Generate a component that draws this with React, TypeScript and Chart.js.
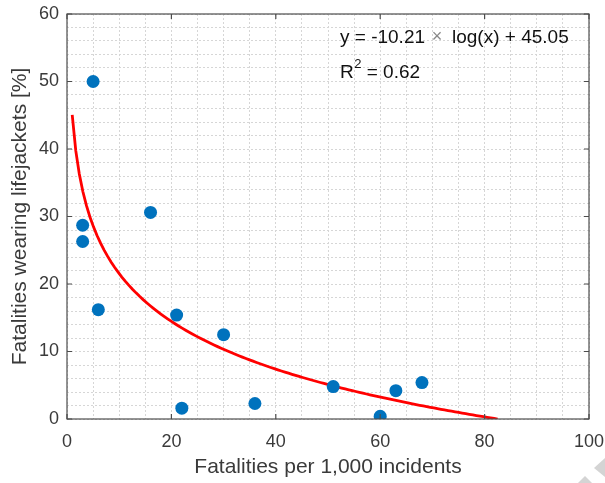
import React, { useEffect, useRef } from "react";
import { Chart, registerables } from "chart.js";

Chart.register(...registerables);

// Observed data points (fatalities per 1,000 incidents, % wearing lifejackets)
const xValues = [5, 3, 3, 6, 16, 21, 22, 30, 36, 51, 60, 63, 68];
const yValues = [50, 28.7, 26.3, 16.2, 30.6, 15.4, 1.6, 12.5, 2.3, 4.8, 0.4, 4.2, 5.4];

// Logarithmic fit shown in the annotation
const fitSlope = -10.21;
const fitIntercept = 45.05;
const fitXStart = 1;
const fitXEnd = 82.5;
const fitSamples = 120;

const eqLeft = "y = -10.21";
const eqTimes = "\u00d7";
const eqRight = "log(x) + 45.05";
const r2Value = " = 0.62";

const xTicks = [0, 20, 40, 60, 80, 100];
const yTicks = [0, 10, 20, 30, 40, 50, 60];
const xTitle = "Fatalities per 1,000 incidents";
const yTitle = "Fatalities wearing lifejackets [%]";

const FONT = "'Liberation Sans', Arial, Helvetica, sans-serif";
const AXIS_COLOR = "#4d4d4d";
const TEXT_COLOR = "#3a3a3a";

const boxPlugin = {
  id: "matlabBox",
  afterDatasetsDraw(chart: any) {
    const { ctx, chartArea, scales } = chart;
    const { left, right, top, bottom } = chartArea;
    ctx.save();
    ctx.strokeStyle = AXIS_COLOR;
    ctx.lineWidth = 1.2;
    ctx.strokeRect(left, top, right - left, bottom - top);
    const tl = 5;
    ctx.beginPath();
    xTicks.forEach((v) => {
      const px = scales.x.getPixelForValue(v);
      ctx.moveTo(px, bottom);
      ctx.lineTo(px, bottom - tl);
      ctx.moveTo(px, top);
      ctx.lineTo(px, top + tl);
    });
    yTicks.forEach((v) => {
      const py = scales.y.getPixelForValue(v);
      ctx.moveTo(left, py);
      ctx.lineTo(left + tl, py);
      ctx.moveTo(right, py);
      ctx.lineTo(right - tl, py);
    });
    ctx.stroke();

    // annotation text
    ctx.fillStyle = "#111111";
    ctx.textBaseline = "alphabetic";
    ctx.textAlign = "left";
    ctx.font = `19px ${FONT}`;
    const tx = 340;
    ctx.fillText(eqLeft, tx, 43);
    const lw = ctx.measureText(eqLeft).width;
    ctx.fillStyle = "#888888";
    ctx.font = `18px ${FONT}`;
    ctx.textAlign = "center";
    ctx.fillText(eqTimes, 437, 42);
    ctx.textAlign = "left";
    ctx.fillStyle = "#111111";
    ctx.font = `19px ${FONT}`;
    ctx.fillText(eqRight, Math.max(452, tx + lw + 24), 43);
    ctx.fillText("R", tx, 78);
    const rw = ctx.measureText("R").width;
    ctx.font = `13px ${FONT}`;
    ctx.fillText("2", tx + rw + 0.5, 68);
    const sw = ctx.measureText("2").width;
    ctx.font = `19px ${FONT}`;
    ctx.fillText(r2Value, tx + rw + sw + 0.5, 78);

    // faint page-corner marks in the bottom-right of the picture
    ctx.fillStyle = "#d4d4d4";
    ctx.beginPath();
    ctx.moveTo(594, 468);
    ctx.lineTo(605, 458);
    ctx.lineTo(605, 477);
    ctx.closePath();
    ctx.fill();
    ctx.beginPath();
    ctx.moveTo(578, 483);
    ctx.lineTo(585, 476);
    ctx.lineTo(592, 483);
    ctx.closePath();
    ctx.fill();
    ctx.restore();
  },
};

export default function App() {
  const ref = useRef<HTMLCanvasElement | null>(null);

  useEffect(() => {
    if (!ref.current) return;
    const points = xValues.map((x, i) => ({ x, y: yValues[i] }));
    const fit: { x: number; y: number }[] = [];
    for (let i = 0; i <= fitSamples; i++) {
      const x = fitXStart + ((fitXEnd - fitXStart) * i) / fitSamples;
      fit.push({ x, y: fitSlope * Math.log(x) + fitIntercept });
    }
    const gridCfg = {
      color: "#d6d6d6",
      lineWidth: 1,
      drawTicks: false,
      tickLength: 0,
    };
    const chart = new Chart(ref.current, {
      type: "scatter",
      data: {
        datasets: [
          {
            type: "line",
            data: fit,
            borderColor: "#ff0000",
            borderWidth: 2.8,
            pointRadius: 0,
            fill: false,
            order: 2,
          } as any,
          {
            data: points,
            backgroundColor: "#0072bd",
            borderColor: "#0072bd",
            pointRadius: 6.5,
            pointBorderWidth: 0,
            order: 1,
          },
        ],
      },
      options: {
        animation: false,
        responsive: false,
        layout: { padding: { left: 0, top: 14, right: 16, bottom: 0 } },
        plugins: { legend: { display: false }, tooltip: { enabled: false } },
        scales: {
          x: {
            type: "linear",
            min: 0,
            max: 100,
            afterFit: (s: any) => {
              s.height = 64;
              s.paddingLeft = 0;
              s.paddingRight = 0;
            },
            afterBuildTicks: (s: any) => {
              const t: any[] = [];
              for (let v = 0; v <= 100; v += 5) t.push({ value: v, major: v % 20 === 0 });
              s.ticks = t;
            },
            border: { display: false, dash: [2, 2] },
            grid: gridCfg as any,
            ticks: {
              autoSkip: false,
              maxRotation: 0,
              padding: 12,
              color: TEXT_COLOR,
              font: { family: FONT, size: 18 },
              callback: (v: any) => (Number(v) % 20 === 0 ? String(v) : ""),
            },
            title: {
              display: true,
              text: xTitle,
              color: TEXT_COLOR,
              font: { family: FONT, size: 21 },
              padding: { top: 0, bottom: 3 },
            },
          },
          y: {
            type: "linear",
            min: 0,
            max: 60,
            afterFit: (s: any) => {
              s.width = 67;
              s.paddingTop = 0;
              s.paddingBottom = 0;
            },
            afterBuildTicks: (s: any) => {
              const t: any[] = [];
              for (let v = 0; v <= 60; v += 2) t.push({ value: v, major: v % 10 === 0 });
              s.ticks = t;
            },
            border: { display: false, dash: [2, 2] },
            grid: gridCfg as any,
            ticks: {
              autoSkip: false,
              padding: 8,
              color: TEXT_COLOR,
              font: { family: FONT, size: 18 },
              callback: (v: any) => (Number(v) % 10 === 0 ? String(v) : ""),
            },
            title: {
              display: true,
              text: yTitle,
              color: TEXT_COLOR,
              font: { family: FONT, size: 21 },
              padding: { top: 8, bottom: 0 },
            },
          },
        },
      },
      plugins: [boxPlugin],
    });
    return () => chart.destroy();
  }, []);

  return (
    <div style={{ position: "fixed", left: 0, top: 0, width: 605, height: 483, background: "#fff" }}>
      <canvas ref={ref} width={605} height={483} />
    </div>
  );
}
